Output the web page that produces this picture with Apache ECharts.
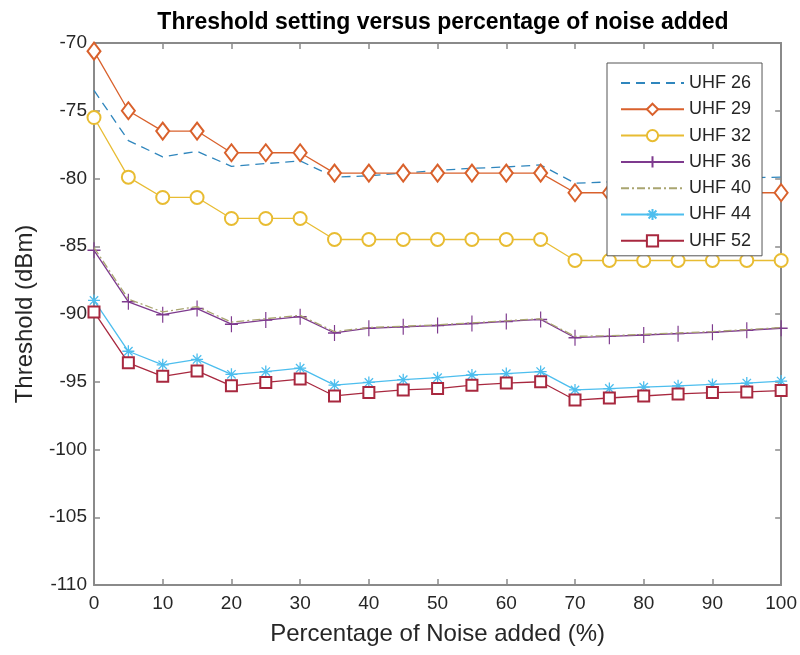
<!DOCTYPE html>
<html>
<head>
<meta charset="utf-8">
<script src="https://cdn.jsdelivr.net/npm/echarts@6/dist/echarts.min.js"></script>
<style>
html,body{margin:0;padding:0;background:#fff;}
#chart{width:800px;height:655px;}
</style>
</head>
<body>
<div id="chart"></div>
<script>
var noisePct = [0,5,10,15,20,25,30,35,40,45,50,55,60,65,70,75,80,85,90,95,100];
var yTicks = [-110,-105,-100,-95,-90,-85,-80,-75,-70];
var xTicks = [0,10,20,30,40,50,60,70,80,90,100];
var seriesNames = ['UHF 26','UHF 29','UHF 32','UHF 36','UHF 40','UHF 44','UHF 52'];

var uhf26 = [-73.5,-77.2,-78.4,-78.0,-79.1,-78.9,-78.7,-79.9,-79.8,-79.6,-79.4,-79.25,-79.15,-79.0,-80.35,-80.25,-80.2,-80.1,-80.0,-79.95,-79.9];
var uhf29 = [-70.6,-75.0,-76.5,-76.5,-78.1,-78.1,-78.1,-79.6,-79.6,-79.6,-79.6,-79.6,-79.6,-79.6,-81.05,-81.05,-81.05,-81.05,-81.05,-81.05,-81.05];
var uhf32 = [-75.5,-79.9,-81.4,-81.4,-82.95,-82.95,-82.95,-84.5,-84.5,-84.5,-84.5,-84.5,-84.5,-84.5,-86.05,-86.05,-86.05,-86.05,-86.05,-86.05,-86.05];
var uhf36 = [-85.3,-89.1,-90.05,-89.6,-90.75,-90.45,-90.2,-91.4,-91.05,-90.95,-90.85,-90.7,-90.55,-90.4,-91.75,-91.65,-91.55,-91.45,-91.35,-91.2,-91.05];
var uhf40 = [-85.1,-88.9,-89.85,-89.45,-90.6,-90.35,-90.1,-91.3,-91.0,-90.9,-90.8,-90.65,-90.5,-90.35,-91.65,-91.6,-91.5,-91.4,-91.3,-91.15,-91.0];
var uhf44 = [-89.0,-92.75,-93.75,-93.35,-94.45,-94.25,-94.0,-95.25,-95.05,-94.85,-94.7,-94.5,-94.4,-94.25,-95.6,-95.5,-95.4,-95.3,-95.2,-95.1,-94.95];
var uhf52 = [-89.85,-93.6,-94.6,-94.2,-95.3,-95.05,-94.8,-96.05,-95.8,-95.6,-95.5,-95.25,-95.1,-95.0,-96.35,-96.2,-96.05,-95.9,-95.8,-95.75,-95.65];

var allValues = [uhf26,uhf29,uhf32,uhf36,uhf40,uhf44,uhf52];
var colors = ['#2f86bd','#d9612c','#e8bc32','#7e3a8e','#a9a570','#4dbeee','#a8283f'];
var symbols = [
  'emptyCircle',
  'emptyDiamond',
  'emptyCircle',
  'path://M0,-1L0,1M-1,0L1,0',
  'emptyCircle',
  'path://M0,-1L0,1M-1,0L1,0M-0.7,-0.7L0.7,0.7M-0.7,0.7L0.7,-0.7',
  'emptyRect'
];
var hasMarker = [false,true,true,true,false,true,true];
var symbolSizes = [0,[13,17],13,[13,16],0,12,11];
var dashTypes = [[9,6],'solid','solid','solid',[8,3,2,3],'solid','solid'];

function pairs(vals){ return noisePct.map(function(x,i){ return [x, vals[i]]; }); }

var series = seriesNames.map(function(name, i){
  return {
    name: name,
    type: 'line',
    data: pairs(allValues[i]),
    symbol: symbols[i],
    symbolSize: hasMarker[i] ? symbolSizes[i] : 1,
    showSymbol: hasMarker[i],
    animation: false,
    clip: false,
    z: 3 + (i === 4 ? 1 : 0),
    lineStyle: { color: colors[i], width: 1.3, type: dashTypes[i] },
    itemStyle: { color: colors[i], borderColor: colors[i], borderWidth: 1.3 }
  };
});

var legendData = seriesNames.map(function(name, i){
  return hasMarker[i] ? { name: name } : { name: name, itemStyle: { opacity: 0 } };
});

var axisColor = '#8a8a8a';
var labelColor = '#262626';
var font = 'Liberation Sans, Arial, sans-serif';

var chart = echarts.init(document.getElementById('chart'), null, {renderer:'canvas'});
chart.setOption({
  backgroundColor: '#ffffff',
  animation: false,
  title: {
    text: 'Threshold setting versus percentage of noise added',
    left: 438, textAlign: 'center', top: 6,
    textStyle: { fontFamily: font, fontSize: 23, fontWeight: 'bold', color: '#000' }
  },
  grid: { left: 94, right: 18, top: 43, bottom: 70 },
  legend: {
    orient: 'vertical',
    left: 607, top: 63,
    padding: [11, 11, 6, 13],
    itemWidth: 63, itemHeight: 14, itemGap: 8.3,
    backgroundColor: '#ffffff',
    borderColor: '#555555', borderWidth: 1,
    textStyle: { fontFamily: font, fontSize: 18, color: labelColor },
    data: legendData
  },
  xAxis: [{
    type: 'value', min: 0, max: 100, interval: 10,
    name: 'Percentage of Noise added (%)',
    nameLocation: 'middle', nameGap: 37,
    nameTextStyle: { fontFamily: font, fontSize: 24, color: labelColor },
    axisLine: { show: true, onZero: false, lineStyle: { color: axisColor, width: 2 } },
    axisTick: { show: true, inside: true, length: 6, lineStyle: { color: axisColor, width: 1.5 } },
    axisLabel: { fontFamily: font, fontSize: 19, color: labelColor, margin: 9,
      formatter: function(v){ return xTicks.indexOf(v) >= 0 ? String(v) : ''; } },
    splitLine: { show: false }
  }, {
    type: 'value', min: 0, max: 100, interval: 10, position: 'top',
    axisLine: { show: true, onZero: false, lineStyle: { color: axisColor, width: 2 } },
    axisTick: { show: true, inside: true, length: 6, lineStyle: { color: axisColor, width: 1.5 } },
    axisLabel: { show: false }, splitLine: { show: false }
  }],
  yAxis: [{
    type: 'value', min: -110, max: -70, interval: 5,
    name: 'Threshold (dBm)',
    nameLocation: 'middle', nameGap: 57,
    nameTextStyle: { fontFamily: font, fontSize: 24, color: labelColor },
    axisLine: { show: true, onZero: false, lineStyle: { color: axisColor, width: 2 } },
    axisTick: { show: true, inside: true, length: 6, lineStyle: { color: axisColor, width: 1.5 } },
    axisLabel: { fontFamily: font, fontSize: 19, color: labelColor, margin: 7,
      formatter: function(v){ return yTicks.indexOf(v) >= 0 ? String(v) : ''; } },
    splitLine: { show: false }
  }, {
    type: 'value', min: -110, max: -70, interval: 5, position: 'right',
    axisLine: { show: true, onZero: false, lineStyle: { color: axisColor, width: 2 } },
    axisTick: { show: true, inside: true, length: 6, lineStyle: { color: axisColor, width: 1.5 } },
    axisLabel: { show: false }, splitLine: { show: false }
  }],
  series: series
});
</script>
</body>
</html>
